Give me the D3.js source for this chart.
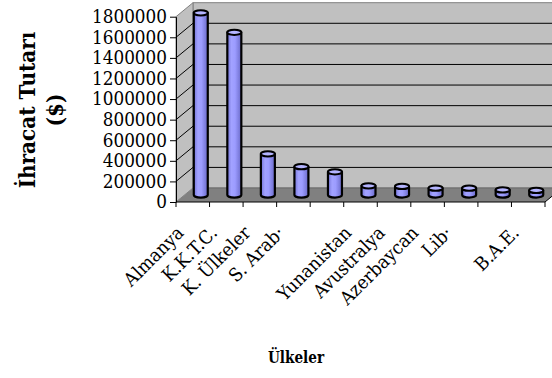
<!DOCTYPE html>
<html>
<head>
<meta charset="utf-8">
<script src="https://cdn.jsdelivr.net/npm/d3@7"></script>
<style>
  html, body { margin: 0; padding: 0; background: #fff; }
  svg { display: block; }
</style>
</head>
<body>
<script>
// Export totals by country ($)
const categories = ["Almanya", "K.K.T.C.", "K. Ülkeler", "S. Arab·", "", "Yunanistan",
                    "Avustralya", "Azerbaycan", "Lib·", "", "B.A.E."];
const exportValues = [1770000, 1580000, 400000, 275000, 225000, 89000,
                      83000, 66000, 66000, 49000, 44000];
const yTickValues = [0, 200000, 400000, 600000, 800000, 1000000,
                     1200000, 1400000, 1600000, 1800000];
const yTitleLines = ["İhracat Tutarı", "($)"];
const xTitle = "Ülkeler";

const W = 552, H = 378;
const FONT = "DejaVu Serif";

const svg = d3.select("body").append("svg")
  .attr("width", W).attr("height", H);

// Narrow the wide serif face to a Times-like set width
function condense(sel, ratio) {
  sel.each(function () {
    const n = this.getComputedTextLength();
    if (n > 0) d3.select(this).attr("textLength", n * ratio).attr("lengthAdjust", "spacingAndGlyphs");
  });
}

// Plot box (front plane) and the 3-D depth offset
const X0 = 176, X1 = 545;
const depth = { dx: 17, dy: -14 };

const x = d3.scaleBand().domain(d3.range(categories.length)).range([X0, X1]).padding(0);
const y = d3.scaleLinear().domain([0, 1800000]).range([202, 16.7]);

const Y0 = y(0), YT = y(1800000);
const line = d3.line();

const defs = svg.append("defs");
const grad = defs.append("linearGradient").attr("id", "cylBody")
  .attr("x1", "0").attr("x2", "1").attr("y1", "0").attr("y2", "0");
[[0, "#7474d8"], [0.3, "#a2a2ff"], [0.55, "#9c9cff"], [1, "#6a6ac8"]]
  .forEach(([o, c]) => grad.append("stop").attr("offset", o).attr("stop-color", c));

// Back wall
svg.append("path")
  .attr("d", line([[X0 + depth.dx, YT + depth.dy], [X1 + depth.dx, YT + depth.dy],
                   [X1 + depth.dx, Y0 + depth.dy], [X0 + depth.dx, Y0 + depth.dy]]) + "Z")
  .attr("fill", "#c0c0c0").attr("stroke", "#808080").attr("stroke-width", 1);

// Side wall
svg.append("path")
  .attr("d", line([[X0, YT], [X0 + depth.dx, YT + depth.dy],
                   [X0 + depth.dx, Y0 + depth.dy], [X0, Y0]]) + "Z")
  .attr("fill", "#c0c0c0").attr("stroke", "#808080").attr("stroke-width", 1);

// Gridlines on the back wall and the side wall
const gridVals = yTickValues.filter(v => v > 0 && v < 1800000);
svg.append("g").selectAll("path").data(gridVals).join("path")
  .attr("d", v => line([[X0, y(v)], [X0 + depth.dx, y(v) + depth.dy], [X1 + depth.dx, y(v) + depth.dy]]))
  .attr("fill", "none").attr("stroke", "#000").attr("stroke-width", 1);

// Floor
svg.append("path")
  .attr("d", line([[X0, Y0], [X1, Y0], [X1 + depth.dx, Y0 + depth.dy], [X0 + depth.dx, Y0 + depth.dy]]) + "Z")
  .attr("fill", "#808080").attr("stroke", "none");
svg.append("path")
  .attr("d", line([[X0 + depth.dx, Y0 + depth.dy], [X1 + depth.dx, Y0 + depth.dy]]))
  .attr("stroke", "#6a6a6a").attr("stroke-width", 1);
svg.append("path")
  .attr("d", line([[X1, Y0], [X1 + depth.dx, Y0 + depth.dy]]))
  .attr("stroke", "#000").attr("stroke-width", 1);

// Cylinders, standing at mid-depth
const rx = 7, ry = 2.6;
const cx = i => x(i) + x.bandwidth() / 2 + depth.dx / 2 - 0.5;
const midShift = depth.dy / 2;
const cyl = svg.append("g").selectAll("g").data(exportValues).join("g");
cyl.append("path")
  .attr("d", (v, i) => {
    const c = cx(i), top = y(v) + midShift, base = Y0 + midShift;
    return `M${c - rx},${top}L${c - rx},${base}A${rx},${ry} 0 0 0 ${c + rx},${base}L${c + rx},${top}Z`;
  })
  .attr("fill", "url(#cylBody)").attr("stroke", "#000").attr("stroke-width", 2.2)
  .attr("stroke-linejoin", "round");
cyl.append("ellipse")
  .attr("cx", (v, i) => cx(i)).attr("cy", v => y(v) + midShift)
  .attr("rx", rx).attr("ry", ry)
  .attr("fill", "#b4b4ff").attr("stroke", "#000").attr("stroke-width", 2);

// Value axis
const yAxis = svg.append("g").attr("transform", `translate(${X0},0)`)
  .call(d3.axisLeft(y).tickValues(yTickValues).tickFormat(d3.format("d"))
    .tickSize(6).tickSizeOuter(0).tickPadding(3));
yAxis.select(".domain").attr("stroke", "#000");
yAxis.selectAll(".tick line").attr("stroke", "#000");
yAxis.selectAll("text").attr("font-family", FONT).attr("font-size", 18.5).attr("fill", "#000")
  .call(condense, 0.91);

// Category axis: baseline and tick marks at band boundaries
svg.append("path").attr("d", line([[X0, Y0], [X1, Y0]]))
  .attr("stroke", "#000").attr("stroke-width", 1);
svg.append("g").selectAll("path").data(d3.range(categories.length + 1)).join("path")
  .attr("d", i => { const px = X0 + i * x.step(); return line([[px, Y0], [px, Y0 + 5]]); })
  .attr("stroke", "#000").attr("stroke-width", 1);

// Category labels, rotated 45°
svg.append("g").selectAll("text").data(categories).join("text")
  .attr("transform", (d, i) => `translate(${x(i) + x.bandwidth() / 2 - 8},234) rotate(-45)`)
  .attr("text-anchor", "end")
  .attr("font-family", FONT)
  .attr("font-size", 18.5).attr("fill", "#000")
  .text(d => d)
  .call(condense, 0.93);

// Axis titles
const yTitle = svg.append("text")
  .attr("transform", "translate(35,110) rotate(-90)")
  .attr("text-anchor", "middle").attr("font-weight", "bold")
  .attr("font-family", FONT)
  .attr("font-size", 23).attr("fill", "#000");
yTitle.append("tspan").attr("x", 0).attr("y", 0).text(yTitleLines[0]).call(condense, 0.87);
yTitle.append("tspan").attr("x", 0).attr("y", 28).text(yTitleLines[1]).call(condense, 0.87);

svg.append("text")
  .attr("x", 296).attr("y", 363)
  .attr("text-anchor", "middle").attr("font-weight", "bold")
  .attr("font-family", FONT)
  .attr("font-size", 16).attr("fill", "#000")
  .text(xTitle)
  .call(condense, 0.85);
</script>
</body>
</html>
